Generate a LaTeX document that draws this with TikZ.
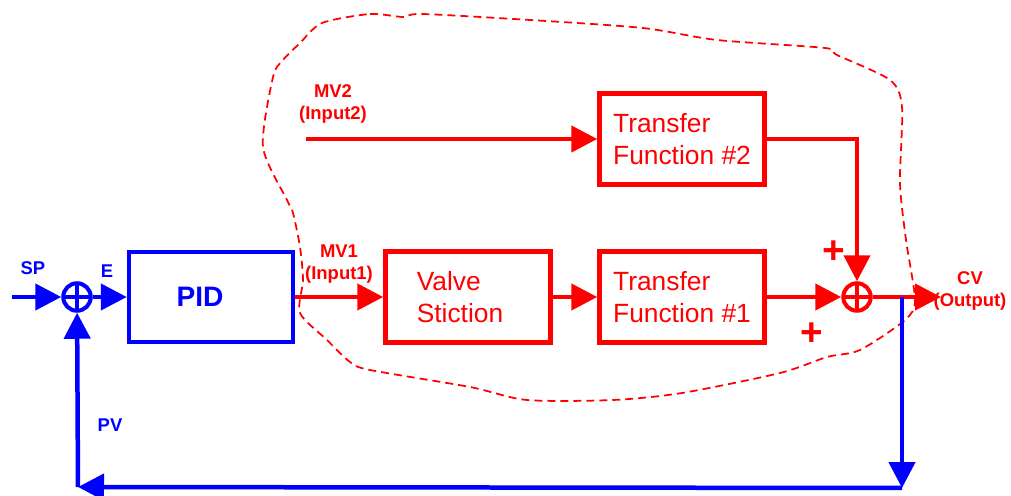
\documentclass[tikz,border=0pt]{standalone}
\usepackage{fontspec}
\setmainfont{Liberation Sans}
\usetikzlibrary{arrows.meta}
\begin{document}
\begin{tikzpicture}[x=0.02cm,y=-0.02cm,
  lbl/.style={font=\fontsize{10.5}{13}\selectfont\bfseries, align=center, inner sep=0},
  rbox/.style={draw=red, line width=0.09cm, minimum width=3.3cm, minimum height=1.82cm,
    text=red, font=\fontsize{15}{18.5}\selectfont, align=left, inner sep=0},
  bbox/.style={draw=blue, line width=0.09cm, minimum width=3.28cm, minimum height=1.8cm,
    text=blue, font=\fontsize{16}{19}\selectfont\bfseries, inner sep=0},
  sumnode/.style={circle, draw=#1, line width=0.08cm, minimum size=0.55cm, inner sep=0,
    path picture={\draw[#1, line width=0.065cm]
      (path picture bounding box.north) -- (path picture bounding box.south)
      (path picture bounding box.west) -- (path picture bounding box.east);}},
  arr/.style={line width=0.09cm, -{Triangle[length=0.52cm,width=0.52cm]}},
  plussign/.style={text=red, font=\fontsize{22}{22}\selectfont\bfseries, inner sep=0},
  outline/.style={draw=red, line width=0.035cm, dash pattern=on 0.16cm off 0.1cm}
]
\useasboundingbox (0,0) rectangle (1011,496);

% dashed system boundary
\draw[outline] plot[smooth cycle, tension=0.45] coordinates {
  (322,23) (370,14) (403,17) (422,14) (530,20) (643,28) (717,40) (825,48) (837,55)
  (890,80) (902,107) (900,183) (906,240) (915,300) (905,320) (860,350) (827,357)
  (780,373) (682,393) (613,400) (527,400) (470,387) (370,370) (350,362) (327,340)
  (300,313) (303,280) (300,247) (293,213) (287,200) (263,147) (273,77) (283,60) (300,43)};

% nodes
\node[bbox] (pid) at (211,297) {PID\hspace*{0.44cm}};
\node[rbox] (valve) at (468,297) {Valve\\Stiction\hspace*{0.32cm}};
\node[rbox] (tf1) at (682,297) {Transfer\\Function \#1};
\node[rbox] (tf2) at (682,139) {Transfer\\Function \#2};
\node[sumnode=blue] (sum1) at (77,297) {};
\node[sumnode=red] (sum2) at (857,297) {};

\coordinate (sp) at (12,297);
\coordinate (mv2) at (306,139);
\coordinate (out) at (941,297);
\coordinate (fb1) at (902,297);
\coordinate (fb2) at (902,488);
\coordinate (fb3) at (78,487);

% labels
\node[lbl, text=blue] (lsp) at (33,268) {SP};
\node[lbl, text=blue] (le) at (107,271) {E};
\node[lbl, text=blue] (lpv) at (110,425) {PV};
\node[lbl, text=red] (lmv1) at (339,264) {MV1\\(Input1)};
\node[lbl, text=red] (lmv2) at (333,104) {MV2\\(Input2)};
\node[lbl, text=red] (lcv) at (970,291) {CV\\(Output)};
\node[plussign] (p1) at (834,252) {+};
\node[plussign] (p2) at (812,334) {+};

% blue connectors
\draw[arr, blue] (sp) -- (sum1);
\draw[arr, blue] (sum1) -- (pid);
% red connectors
\draw[arr, red] (pid.east) -- (valve.west);
\draw[arr, red] (valve) -- (tf1);
\draw[arr, red] (tf1) -- (sum2);
\draw[arr, red] (mv2) -- (tf2.west);
\draw[arr, red] (tf2.east) -| (sum2.north);
\draw[arr, red] (sum2) -- (out);
% feedback
\draw[arr, blue] (fb1) -- (fb2);
\draw[arr, blue] (fb2) -- (fb3);
\draw[arr, blue] (fb3) -- (sum1);
\end{tikzpicture}
\end{document}
